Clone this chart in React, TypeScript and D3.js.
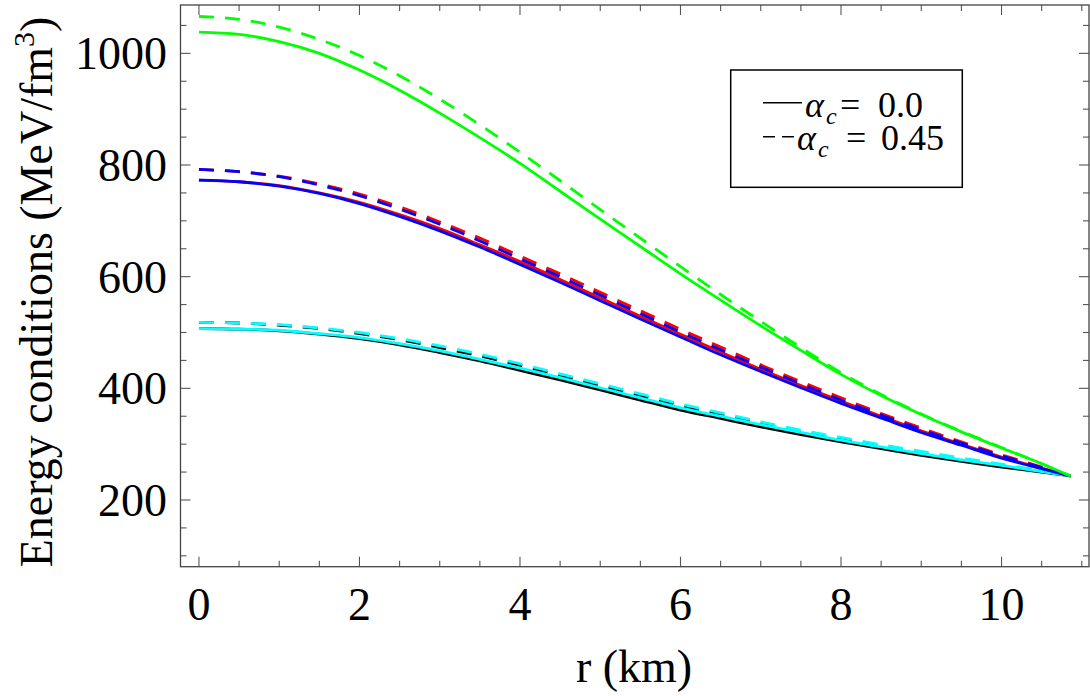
import React from "react";
import * as d3 from "d3";

const rValues = [0, 0.5, 1, 1.5, 2, 2.5, 3, 3.5, 4, 4.5, 5, 5.5, 6, 6.5, 7, 7.5, 8, 8.5, 9, 9.5, 10, 10.5, 10.86];

const greenSolid = [1038, 1034, 1021, 1000, 970, 934, 893, 849, 803, 753, 703, 654, 605, 558, 512, 468, 425, 387, 353, 322, 293, 265, 243];
const greenDashed = [1066, 1061, 1047, 1025, 996, 960, 918, 872, 823, 772, 720, 669, 618, 568, 520, 473, 428, 389, 354, 323, 294, 265, 243];
const blueSolid = [773, 770, 762, 749, 731, 708, 682, 653, 622, 590, 557, 524, 492, 460, 430, 401, 373, 347, 321, 298, 275, 256, 243];
const redSolid = [773, 770, 763, 750, 733, 711, 686, 657, 627, 595, 562, 529, 497, 465, 434, 405, 377, 350, 324, 300, 277, 257, 243];
const blueDashed = [792, 788, 779, 764, 745, 721, 694, 664, 632, 600, 567, 534, 501, 469, 438, 408, 379, 352, 326, 302, 279, 258, 243];
const redDashed = [792, 788, 780, 766, 748, 725, 698, 669, 637, 605, 572, 539, 506, 474, 442, 412, 383, 355, 329, 304, 281, 259, 243];
const blackSolid = [507, 506, 503, 497, 489, 478, 464, 449, 432, 415, 397, 379, 361, 346, 331, 317, 304, 292, 280, 269, 259, 250, 243];
const cyanSolid = [507, 506, 504, 498, 491, 480, 467, 452, 436, 419, 401, 383, 365, 350, 335, 321, 307, 295, 283, 272, 262, 251, 243];
const blackDashed = [518, 517, 513, 507, 498, 487, 473, 458, 441, 423, 405, 387, 369, 353, 337, 322, 309, 296, 284, 272, 262, 251, 243];
const cyanDashed = [518, 517, 514, 508, 500, 489, 476, 461, 444, 426, 408, 390, 372, 356, 340, 325, 312, 299, 287, 275, 264, 252, 243];

const xTickLabels = [0, 2, 4, 6, 8, 10];
const yTickLabels = [200, 400, 600, 800, 1000];
const legendValues = ["0.0", "0.45"];

const series = [
  { values: blackSolid, color: "#000000", dashed: false },
  { values: blackDashed, color: "#000000", dashed: true },
  { values: cyanSolid, color: "#00ffff", dashed: false },
  { values: cyanDashed, color: "#00ffff", dashed: true },
  { values: redSolid, color: "#ff0000", dashed: false },
  { values: redDashed, color: "#ff0000", dashed: true },
  { values: blueSolid, color: "#0000ff", dashed: false },
  { values: blueDashed, color: "#0000ff", dashed: true },
  { values: greenSolid, color: "#00ff00", dashed: false },
  { values: greenDashed, color: "#00ff00", dashed: true },
];

const W = 1090;
const H = 696;
const L = 180.5, R = 1089, T = 5, B = 566.7;
const FONT = "'Liberation Serif', 'Times New Roman', Times, serif";

export default function App() {
  const x = d3.scaleLinear().domain([-0.23, 11.09]).range([L, R]);
  const y = d3.scaleLinear().domain([80.5, 1086.6]).range([B, T]);

  const line = (vals: number[]) =>
    d3
      .line<number>()
      .x((_, i) => x(rValues[i]))
      .y((d) => y(d))
      .curve(d3.curveMonotoneX)(vals) || "";

  const xMinor = d3.range(0, 11.01, 0.5);
  const yMinor = d3.range(100, 1086, 50);
  const tickColor = "#555";

  const legendRows = [
    { yLine: 102.7, yText: 116.7, alphaX: 805, eqX: 840, valX: 878, lineX2: 802, dashed: false },
    { yLine: 136.7, yText: 150, alphaX: 797, eqX: 846, valX: 881, lineX2: 794, dashed: true },
  ];

  return (
    <svg width={W} height={H} style={{ position: "absolute", left: 0, top: 0, background: "#fff" }}>
      <rect x={0} y={0} width={W} height={H} fill="#fff" />
      {xMinor.map((v) => {
        const major = Math.abs(v % 2) < 1e-6;
        const len = major ? 10 : 6;
        return (
          <g key={"xt" + v} stroke={tickColor} strokeWidth={1.1}>
            <line x1={x(v)} x2={x(v)} y1={B} y2={B - len} />
            <line x1={x(v)} x2={x(v)} y1={T} y2={T + len} />
          </g>
        );
      })}
      {yMinor.map((v) => {
        const major = v % 200 === 0;
        const len = major ? 10 : 6;
        return (
          <g key={"yt" + v} stroke={tickColor} strokeWidth={1.1}>
            <line x1={L} x2={L + len} y1={y(v)} y2={y(v)} />
            <line x1={R} x2={R - len} y1={y(v)} y2={y(v)} />
          </g>
        );
      })}
      {series.map((s, i) => (
        <path
          key={i}
          d={line(s.values)}
          fill="none"
          stroke={s.color}
          strokeWidth={2.8}
          strokeDasharray={s.dashed ? "15,11" : undefined}
        />
      ))}
      <rect x={L} y={T} width={R - L} height={B - T} fill="none" stroke="#444" strokeWidth={1.3} />
      {xTickLabels.map((v) => (
        <text key={"xl" + v} x={x(v)} y={620} textAnchor="middle" fontFamily={FONT} fontSize={46} fill="#000">
          {v}
        </text>
      ))}
      {yTickLabels.map((v) => (
        <text key={"yl" + v} x={167} y={y(v)} dy="0.35em" textAnchor="end" fontFamily={FONT} fontSize={46} fill="#000">
          {v}
        </text>
      ))}
      <text x={634} y={682} textAnchor="middle" fontFamily={FONT} fontSize={46} fill="#000">
        r (km)
      </text>
      <text
        transform={`translate(52, 292) rotate(-90)`}
        textAnchor="middle"
        fontFamily={FONT}
        fontSize={46}
        fill="#000"
      >
        Energy conditions (MeV/fm
        <tspan fontSize={30} dy={-18}>3</tspan>
        <tspan dy={18}>)</tspan>
      </text>
      <rect x={730.7} y={70} width={231.6} height={117.3} fill="#fff" stroke="#000" strokeWidth={1.5} />
      {legendRows.map((row, i) => (
        <g key={"lg" + i}>
          <line
            x1={763}
            x2={row.lineX2}
            y1={row.yLine}
            y2={row.yLine}
            stroke="#000"
            strokeWidth={1.6}
            strokeDasharray={row.dashed ? "12,7" : undefined}
          />
          <text y={row.yText} fontFamily={FONT} fontSize={36} fill="#000">
            <tspan x={row.alphaX} fontStyle="italic">α</tspan>
            <tspan x={row.alphaX + 21} dy={7} fontSize={24} fontStyle="italic">c</tspan>
            <tspan x={row.eqX} dy={-7}>=</tspan>
            <tspan x={row.valX}>{legendValues[i]}</tspan>
          </text>
        </g>
      ))}
    </svg>
  );
}
